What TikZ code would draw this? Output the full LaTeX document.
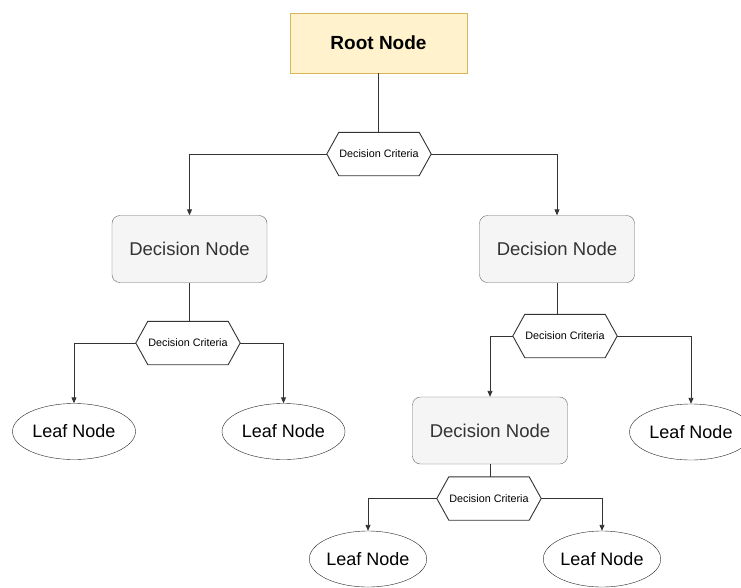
\documentclass[tikz,border=0pt]{standalone}
\usepackage{fontspec}
\setmainfont{Liberation Sans}
\usetikzlibrary{arrows.meta,shapes.geometric}
\definecolor{rootfill}{HTML}{FFF2CC}
\definecolor{rootdraw}{HTML}{D6B656}
\definecolor{decfill}{HTML}{F5F5F5}
\definecolor{decdraw}{HTML}{666666}
\definecolor{dectext}{HTML}{333333}
\definecolor{linecol}{HTML}{333333}
\tikzset{
  rootbox/.style={draw=rootdraw, fill=rootfill, minimum width=177pt, minimum height=60pt, inner sep=0pt, font=\fontsize{19}{22}\selectfont\bfseries},
  decbox/.style={draw=decdraw, fill=decfill, rounded corners=8pt, minimum width=155pt, minimum height=67pt, inner sep=0pt, text=dectext, font=\fontsize{18.5}{22}\selectfont},
  critbox/.style={draw=none, minimum width=104pt, minimum height=43pt, inner sep=0pt, font=\fontsize{10.8}{13}\selectfont},
  leafbox/.style={draw=black!85, fill=white, ellipse, minimum width=123pt, minimum height=56pt, inner sep=0pt, font=\fontsize{18}{22}\selectfont},
  conn/.style={draw=linecol, line width=0.9pt},
  arr/.style={conn, -{Triangle[length=6pt,width=5pt]}},
  hexline/.style={draw=linecol, line width=0.9pt, fill=white}
}
\begin{document}
\begin{tikzpicture}[x=1pt,y=1pt]
\useasboundingbox (0,0) rectangle (741,-587);
\fill[white] (0,0) rectangle (741,-587);

\node[rootbox] (root) at (378.5,-43) {Root Node};
\node[critbox] (c1) at (379,-154) {};
\node[decbox] (d1) at (189.5,-249) {Decision Node};
\node[decbox] (d2) at (557,-249) {Decision Node};
\node[critbox] (c2) at (188,-343) {};
\node[leafbox] (l1) at (74,-431.5) {Leaf Node};
\node[leafbox] (l2) at (283.5,-431.5) {Leaf Node};
\node[critbox] (c3) at (565,-336) {};
\node[decbox] (d3) at (490,-430.5) {Decision Node};
\node[leafbox] (l3) at (691,-432) {Leaf Node};
\node[critbox] (c4) at (489,-498.5) {};
\node[leafbox, minimum width=112pt] (l4) at (368,-559) {Leaf Node};
\node[leafbox, minimum width=112pt] (l5) at (602,-559) {Leaf Node};

% connectors
\draw[conn] (root.south) -- (root.south |- c1.north);
\draw[arr] (c1.west) -| (d1.north);
\draw[arr] (c1.east) -| (d2.north);
\draw[conn] (d1.south) -- (d1.south |- c2.north);
\draw[arr] (c2.west) -| (l1.north);
\draw[arr] (c2.east) -| (l2.north);
\draw[conn] (d2.south) -- (d2.south |- c3.north);
\draw[arr] (c3.west) -| (d3.north);
\draw[arr] (c3.east) -| (l3.north);
\draw[conn] (d3.south) -- (d3.south |- c4.north);
\draw[arr] (c4.west) -| (l4.north);
\draw[arr] (c4.east) -| (l5.north);

% hexagons
\foreach \n in {c1,c2,c3,c4}{
  \draw[hexline] (\n.west) -- ([xshift=12pt]\n.north west) -- ([xshift=-12pt]\n.north east) -- (\n.east) -- ([xshift=-12pt]\n.south east) -- ([xshift=12pt]\n.south west) -- cycle;
  \node[critbox] at (\n) {Decision Criteria};
}
\end{tikzpicture}
\end{document}
